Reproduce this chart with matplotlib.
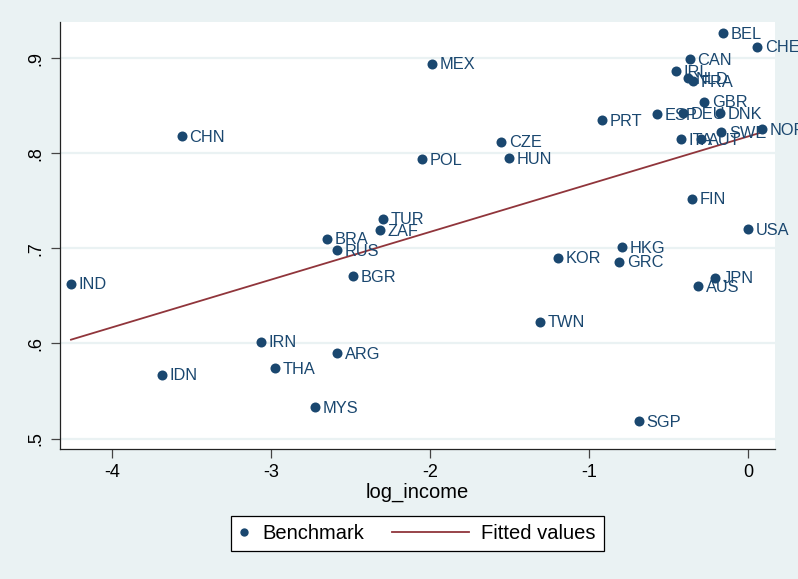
import numpy as np
import matplotlib.pyplot as plt
from matplotlib.lines import Line2D
from matplotlib.legend_handler import HandlerBase

plt.rcParams['font.family'] = ['Liberation Sans', 'DejaVu Sans']

# country codes, log income and benchmark score
countries = ['BEL', 'CHE', 'CAN', 'IRL', 'NLD', 'FRA', 'GBR', 'ESP', 'DEU', 'DNK',
             'PRT', 'SWE', 'NOR', 'ITA', 'AUT', 'FIN', 'USA', 'HKG', 'GRC', 'JPN',
             'AUS', 'KOR', 'TWN', 'SGP', 'MEX', 'CZE', 'HUN', 'POL', 'CHN', 'TUR',
             'ZAF', 'BRA', 'RUS', 'BGR', 'IND', 'IRN', 'ARG', 'THA', 'IDN', 'MYS']
log_income = [-0.157, 0.057, -0.365, -0.453, -0.379, -0.344, -0.275, -0.570, -0.411, -0.176,
              -0.920, -0.168, 0.090, -0.423, -0.297, -0.350, -0.002, -0.792, -0.811, -0.208,
              -0.313, -1.195, -1.308, -0.686, -1.987, -1.553, -1.503, -2.050, -3.560, -2.298,
              -2.314, -2.650, -2.585, -2.482, -4.258, -3.063, -2.585, -2.975, -3.686, -2.723]
benchmark = [0.926, 0.912, 0.899, 0.886, 0.879, 0.876, 0.854, 0.841, 0.842, 0.842,
             0.835, 0.822, 0.825, 0.815, 0.815, 0.752, 0.720, 0.701, 0.686, 0.669,
             0.660, 0.690, 0.623, 0.518, 0.894, 0.812, 0.795, 0.794, 0.818, 0.731,
             0.719, 0.710, 0.698, 0.671, 0.663, 0.602, 0.590, 0.574, 0.567, 0.533]

xticks = [-4, -3, -2, -1, 0]
yticks = [0.5, 0.6, 0.7, 0.8, 0.9]
ytick_labels = ['.5', '.6', '.7', '.8', '.9']

bg = '#EAF2F3'
navy = '#1A476F'
maroon = '#90353B'

x = np.array(log_income)
y = np.array(benchmark)
slope, intercept = np.polyfit(x, y, 1)
xfit = np.array([x.min(), x.max()])
yfit = intercept + slope * xfit

fig = plt.figure(figsize=(7.98, 5.79), dpi=100, facecolor=bg)
ax = fig.add_axes([60 / 798, 1 - 449 / 579, 715 / 798, 427 / 579])
ax.set_facecolor('white')

ax.set_xlim(-4.327, 0.17)
ax.set_ylim(0.489, 0.938)
for t in yticks:
    ax.axhline(t, color=bg, lw=1.6, zorder=0)

ax.scatter(x, y, s=52, color=navy, zorder=3, linewidths=0)
ax.plot(xfit, yfit, color=maroon, lw=1.3, zorder=2)
for c, xi, yi in zip(countries, x, y):
    ax.annotate(c, (xi, yi), xytext=(5.5, -0.8), textcoords='offset points',
                ha='left', va='center', fontsize=11.8, color=navy,
                annotation_clip=False, clip_on=False, zorder=4)

ax.spines['top'].set_visible(False)
ax.spines['right'].set_visible(False)
for s in ['left', 'bottom']:
    ax.spines[s].set_color('#222222')
    ax.spines[s].set_linewidth(0.9)

ax.set_xticks(xticks)
ax.set_xticklabels([str(t) for t in xticks])
ax.set_yticks(yticks)
ax.set_yticklabels(ytick_labels, rotation=90, va='center')
ax.tick_params(axis='both', labelsize=13, length=6.5, width=0.9, color='#444444', pad=4.5)
ax.set_xlabel('log_income', fontsize=14.5, labelpad=1)


class LongLineHandler(HandlerBase):
    # draws the legend line wider than the shared handle box
    def create_artists(self, legend, orig, xdescent, ydescent, width, height, fontsize, trans):
        yc = height / 2 - ydescent
        ln = Line2D([-xdescent - 3.25 * fontsize, -xdescent + width + 0.075 * fontsize], [yc, yc],
                    color=orig.get_color(), lw=orig.get_linewidth())
        ln.set_transform(trans)
        return [ln]


h_pts = Line2D([], [], ls='none', marker='o', ms=6, color=navy, mew=0)
h_fit = Line2D([], [], color=maroon, lw=1.3)
leg = fig.legend([h_pts, h_fit], ['Benchmark', 'Fitted values'], loc='center',
                 bbox_to_anchor=(417.5 / 798, 1 - 533.3 / 579), ncol=2, fontsize=14.5,
                 frameon=True, fancybox=False, edgecolor='black', framealpha=1,
                 handlelength=0.46, handletextpad=0.69, columnspacing=4.64,
                 borderpad=0.4, handler_map={h_fit: LongLineHandler()})
leg.get_frame().set_linewidth(0.9)

fig.savefig('out.png', dpi=100, facecolor=bg)
